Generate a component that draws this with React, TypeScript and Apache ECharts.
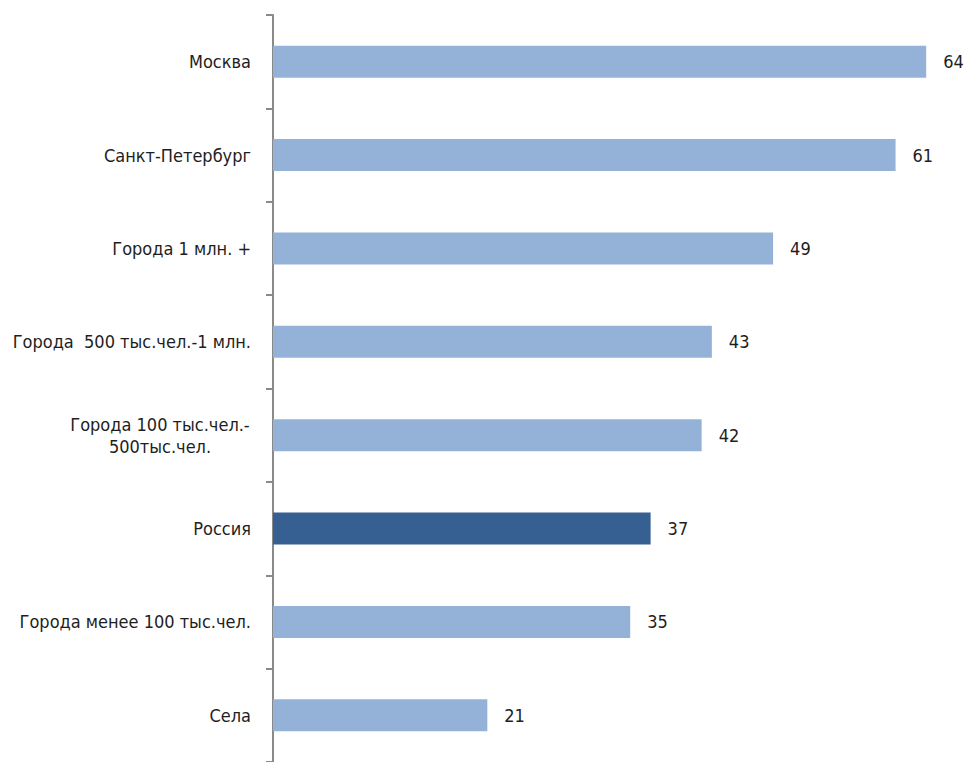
import React, { useEffect, useRef } from "react";
import * as echarts from "echarts";

const categories: string[] = [
  "Москва",
  "Санкт-Петербург",
  "Города 1 млн. +",
  "Города  500 тыс.чел.-1 млн.",
  "Города 100 тыс.чел.-\n500тыс.чел.",
  "Россия",
  "Города менее 100 тыс.чел.",
  "Села",
];
const values: number[] = [64, 61, 49, 43, 42, 37, 35, 21];
const highlighted: string[] = ["Россия"];

const LIGHT = "#94B2D7";
const DARK = "#365F92";
const FONT = "'Liberation Sans Narrow', 'DejaVu Sans Condensed', 'Liberation Sans', sans-serif";

export default function App() {
  const ref = useRef<HTMLDivElement>(null);
  useEffect(() => {
    if (!ref.current) return;
    const chart = echarts.init(ref.current, undefined, { renderer: "svg" });
    chart.setOption({
      animation: false,
      backgroundColor: "#ffffff",
      grid: { left: 273, top: 15, width: 694, height: 752, containLabel: false },
      xAxis: {
        type: "value",
        min: 0,
        max: 68,
        show: false,
        splitLine: { show: false },
      },
      yAxis: {
        type: "category",
        inverse: true,
        data: categories,
        axisLine: { show: true, lineStyle: { color: "#8a8a8a", width: 2 } },
        axisTick: { show: true, length: 7, lineStyle: { color: "#8a8a8a", width: 2 } },
        axisLabel: {
          margin: 22,
          color: "#1e1e1e",
          fontFamily: FONT,
          fontSize: 18,
          lineHeight: 22,
          formatter: (v: string) =>
            v.includes("\n")
              ? v.split("\n").map((l) => `{c|${l}}`).join("\n")
              : v,
          rich: {
            c: {
              width: 182,
              align: "center",
              fontFamily: FONT,
              fontSize: 18,
              lineHeight: 22,
              color: "#1e1e1e",
            },
          },
        },
      },
      series: [
        {
          type: "bar",
          barWidth: 32,
          data: values.map((v, i) => ({
            value: v,
            itemStyle: { color: highlighted.includes(categories[i]) ? DARK : LIGHT },
          })),
          label: {
            show: true,
            position: "right",
            distance: 17,
            color: "#1e1e1e",
            fontFamily: FONT,
            fontSize: 18,
          },
        },
      ],
    });
    return () => chart.dispose();
  }, []);
  return (
    <div
      ref={ref}
      style={{ position: "fixed", left: 0, top: 0, width: 967, height: 762, background: "#fff" }}
    />
  );
}
